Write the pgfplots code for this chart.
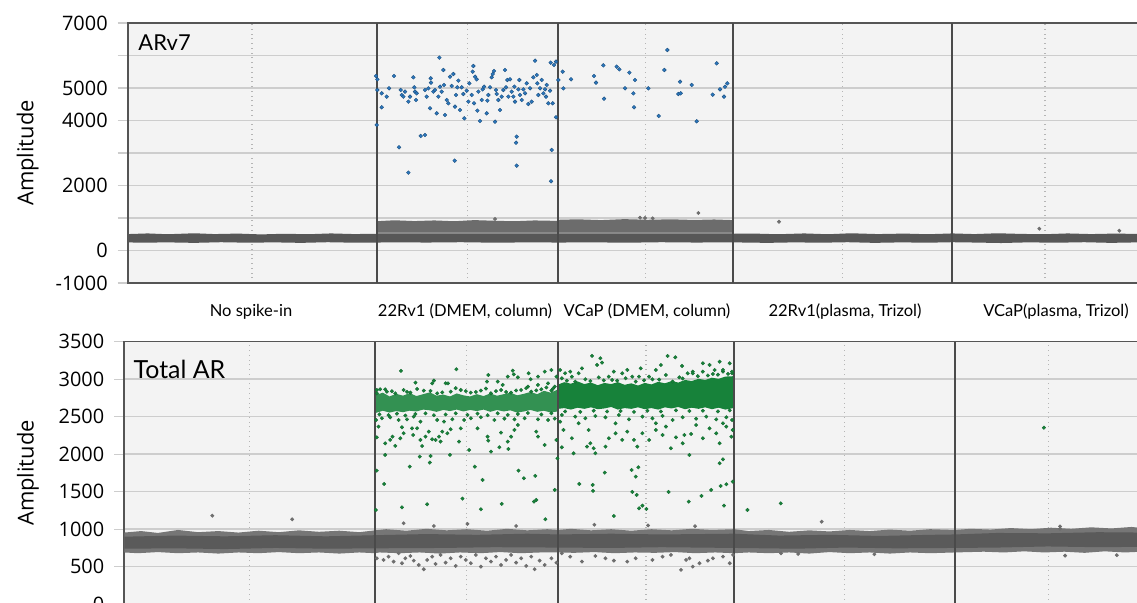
\documentclass[border=0pt]{standalone}
\usepackage{fontspec}
\setmainfont{Open Sans}
\newfontfamily\gill{Lato}
\usepackage{pgfplots}
\pgfplotsset{compat=1.18}

\definecolor{bgc}{HTML}{F3F3F3}
\definecolor{gridc}{HTML}{CDCDCD}
\definecolor{dotc}{HTML}{B5B5B5}
\definecolor{sepc}{HTML}{4A4A4A}
\definecolor{framec}{HTML}{555555}
\definecolor{bandd}{HTML}{575757}
\definecolor{bandu}{HTML}{6C6C6C}
\definecolor{bandg}{HTML}{8E8E8E}
\definecolor{bando}{HTML}{767676}
\definecolor{bandc}{HTML}{5A5A5A}
\definecolor{outc}{HTML}{6E6E6E}
\definecolor{bluec}{HTML}{2C78BE}
\definecolor{bluedk}{HTML}{1B4F80}
\definecolor{greenc}{HTML}{17823A}

\pgfplotsset{
  ddpcr/.style={
    scale only axis,
    xmin=0, xmax=3031,
    axis background/.style={fill=bgc},
    axis line style={draw=framec, line width=0.8bp},
    tick align=outside,
    major tick length=5bp, minor tick length=5bp,
    xtick style={draw=none},
    ytick style={draw=gridc, line width=0.6bp},
    minor xtick={373,1019,1554,2145,2752},
    xminorgrids, ymajorgrids, yminorgrids,
    minor x grid style={draw=dotc, dotted, line width=0.7bp},
    major y grid style={draw=gridc, line width=0.7bp},
    minor y grid style={draw=gridc, line width=0.7bp},
    tick label style={font=\fontsize{10}{12}\selectfont},
    yticklabel style={xshift=-1.5bp},
    /pgf/number format/assume math mode=true,
    /pgf/number format/1000 sep={},
    label style={font=\fontsize{11}{13}\selectfont},
    ylabel={Amplitude},
  },
  sep/.style={draw=sepc, line width=0.9bp, forget plot},
  blue pts/.style={only marks, mark=*, mark size=0.95bp,
    mark options={fill=bluec, draw=bluedk, line width=0.2bp}},
  green pts/.style={only marks, mark=*, mark size=0.9bp,
    mark options={fill=greenc, draw=greenc!80!black, line width=0.15bp}},
  gray pts/.style={only marks, mark=*, mark size=0.75bp,
    mark options={fill=outc, draw=outc}},
}

\begin{document}
\begin{tikzpicture}

% ---------------- ARv7 ----------------
\begin{axis}[ddpcr,
  at={(63.85bp,160bp)}, anchor=south west,
  width=505.15bp, height=130bp,
  ymin=-1000, ymax=7000,
  ytick={-1000,0,2000,4000,5000,7000},
  minor ytick={1000,3000,6000},
  xtick={370,1012,1558,2152,2785},
  xticklabels={{No spike-in},{22Rv1 (DMEM, column)},{VCaP (DMEM, column)},{22Rv1(plasma, Trizol)},{VCaP(plasma, Trizol)}},
  xticklabel style={font=\gill\fontsize{8.3}{9}\selectfont, anchor=base, yshift=-11.8bp},
  ylabel style={at={(rel axis cs:-0.099,0.5)}, anchor=center},
]
% light strip between the two negative layers (wells 2-3)
\addplot[fill=bandg, draw=none] coordinates {(747,575)(1816,575)(1816,500)(747,500)};
% upper negative layer (wells 2-3)
\addplot[fill=bandu, draw=none] coordinates {
(747,900)(800,930)(860,905)(920,925)(980,900)(1040,935)(1100,915)(1160,900)(1220,925)(1292,910)
(1292,945)(1350,960)(1420,935)(1490,965)(1560,945)(1630,960)(1700,940)(1760,955)(1816,935)
(1816,565)(747,565)};
% negative droplet band
\addplot[fill=bandd, draw=none] coordinates {
(0,505)(60,525)(120,500)(200,530)(260,505)(330,520)(400,495)(470,515)(540,500)(610,525)(680,505)(747,515)
(1816,515)(1880,520)(1950,500)(2030,525)(2100,500)(2170,530)(2250,505)(2330,520)(2400,500)(2474,525)
(2540,505)(2610,530)(2680,510)(2750,500)(2820,525)(2890,505)(2960,520)(3031,510)
(3031,250)(2950,235)(2870,255)(2790,240)(2700,250)(2620,230)(2540,245)(2474,255)(2400,240)(2320,250)
(2240,235)(2160,255)(2080,240)(2000,250)(1920,235)(1816,250)(1700,245)(1600,255)(1500,240)(1400,250)
(1292,245)(1200,250)(1100,240)(1000,255)(900,245)(800,250)(747,245)(680,240)(600,255)(520,235)
(440,250)(360,240)(280,255)(200,235)(120,250)(40,240)(0,250)};
\addplot[gray pts] coordinates {(1102,969)(1537,1009)(1552,1000)(1575,990)(1712,1154)(1954,886)(2735,671)(2975,609)};
% ARv7 positive droplets
\addplot[blue pts] coordinates {
(745,5370)(749,5267)(749,4939)(762,4836)(762,4406)(747,3862)(777,4734)(784,4990)(799,5370)(814,3175)
(819,4939)(822,4785)(827,4734)(832,4888)(842,4580)(842,2395)(847,4734)(857,5329)(860,5021)(862,4888)
(865,4631)(867,4836)(879,3524)(892,3554)(892,4939)(897,4734)(902,4990)(907,4375)(909,5298)(910,5165)
(917,4888)(922,4939)(927,4221)(932,4734)(935,5934)(937,5041)(942,4888)(947,5554)(949,5093)(952,4170)
(957,4631)(962,4529)(967,5349)(972,5062)(977,5431)(981,2765)(982,4426)(985,4785)(989,5021)(992,5226)
(997,4323)(1002,5021)(1007,4816)(1010,4067)(1017,4918)(1022,4580)(1025,5144)(1032,4785)(1035,5503)(1037,5677)
(1039,4529)(1042,5349)(1047,5267)(1049,4303)(1052,4888)(1057,3985)(1062,4631)(1065,4959)(1069,5041)(1077,4221)
(1079,4611)(1082,4785)(1087,5021)(1092,5329)(1095,5431)(1099,5523)(1102,3964)(1105,4939)(1107,4816)(1112,4631)
(1117,4323)(1122,4734)(1127,4939)(1132,5554)(1135,5021)(1139,5247)(1142,4734)(1147,5267)(1152,4888)(1157,4734)
(1160,5041)(1162,4580)(1165,3318)(1167,3503)(1167,2611)(1172,4959)(1175,5247)(1177,4785)(1182,4631)(1187,4959)
(1192,4836)(1197,5144)(1202,4508)(1207,4990)(1212,4580)(1217,5329)(1222,5841)(1227,5400)(1229,5144)(1232,4785)
(1237,4990)(1242,5247)(1247,4836)(1252,4959)(1255,4734)(1257,5093)(1262,4529)(1267,4918)(1269,5780)(1272,3093)
(1270,2129)(1275,4529)(1279,5708)(1285,4098)(1285,5811)
(1292,5247)(1305,5503)(1307,4990)(1330,5267)(1399,5370)(1405,5165)(1427,5698)(1429,4672)(1467,5657)(1475,5575)
(1492,4990)(1505,5472)(1517,4836)(1519,4406)(1522,5247)(1562,4990)(1593,4139)(1610,5554)(1619,6170)(1652,4816)
(1657,5195)(1659,4836)(1692,5093)(1707,3975)(1755,4795)(1767,5759)(1777,4959)(1789,4734)(1792,5041)(1799,5144)};
% well separators
\pgfplotsinvokeforeach{747,1292,1816,2474}{\addplot[sep] coordinates {(#1,-1000)(#1,7000)};}
\node[font=\gill\fontsize{11}{13}\selectfont, anchor=west, inner sep=0pt]
  at (rel axis cs:0,1) [xshift=5.2bp, yshift=-9.6bp] {ARv7};
\end{axis}

% ---------------- Total AR ----------------
\begin{axis}[ddpcr,
  at={(62.15bp,-0.6bp)}, anchor=south west,
  width=508.85bp, height=131.25bp,
  ymin=0, ymax=3500,
  ytick={0,500,...,3500},
  xtick={370,1012,1558,2152,2785},
  xticklabels={},
  ylabel style={at={(rel axis cs:-0.0946,0.5)}, anchor=center},
]
% negative droplet band, outer and core
\addplot[fill=bando, draw=none] coordinates {
(0,955)(50,975)(100,950)(160,990)(220,960)(280,975)(340,955)(400,980)(460,960)(520,985)(580,965)(640,980)(700,960)(747,985)
(780,1000)(840,980)(900,1005)(960,985)(1020,1000)(1080,980)(1140,1005)(1200,985)(1260,1000)(1292,990)
(1330,1005)(1390,985)(1450,1000)(1510,980)(1570,1000)(1630,985)(1690,1005)(1750,990)(1816,1000)
(1860,975)(1920,990)(1980,965)(2040,985)(2100,970)(2160,990)(2220,975)(2280,995)(2340,980)(2400,1000)(2474,990)
(2520,1005)(2580,995)(2640,1015)(2700,1000)(2760,1020)(2820,1005)(2880,1025)(2940,1010)(3000,1030)(3031,1015)
(3031,700)(2980,690)(2920,705)(2860,685)(2800,700)(2740,690)(2680,705)(2620,690)(2560,700)(2474,690)
(2400,680)(2340,690)(2280,675)(2220,690)(2160,680)(2100,695)(2040,675)(1980,690)(1920,680)(1860,690)(1816,680)
(1760,690)(1700,680)(1640,695)(1580,685)(1520,690)(1460,680)(1400,695)(1340,685)(1292,690)
(1240,690)(1180,680)(1120,695)(1060,680)(1000,690)(940,675)(880,690)(820,680)(760,690)(747,680)
(700,690)(640,675)(580,690)(520,680)(460,695)(400,680)(340,690)(280,675)(220,690)(160,680)(100,695)(40,680)(0,690)};
\addplot[fill=bandc, draw=none] coordinates {
(0,900)(150,915)(300,905)(450,920)(600,905)(747,920)(900,935)(1050,925)(1200,940)(1292,930)(1450,940)(1600,930)
(1816,940)(1950,915)(2100,925)(2250,910)(2400,925)(2474,930)(2600,950)(2750,945)(2900,960)(3031,955)
(3031,765)(2900,760)(2750,770)(2600,755)(2474,750)(2300,745)(2150,755)(2000,740)(1816,750)(1600,760)(1450,750)
(1292,755)(1100,760)(950,750)(747,745)(600,740)(450,750)(300,735)(150,745)(0,740)};
% scattered negative droplets
\addplot[gray pts] coordinates {
(752,612)(772,590)(787,634)(802,568)(817,679)(827,546)(837,612)(852,643)(862,581)(877,523)
(892,466)(902,590)(917,634)(927,537)(942,657)(957,554)(972,612)(987,510)(1002,634)(1017,590)
(1032,546)(1047,657)(1062,501)(1077,612)(1092,568)(1107,634)(1122,523)(1137,590)(1152,657)(1167,554)
(1182,612)(1197,510)(1212,634)(1222,466)(1237,581)(1252,523)(1272,612)(1287,554)
(1303,679)(1328,634)(1363,568)(1403,643)(1433,612)(1458,581)(1498,568)(1523,612)(1573,590)(1603,634)
(1628,657)(1658,457)(1673,590)(1683,612)(1693,501)(1713,546)(1738,581)(1753,612)(1783,634)(1803,546)(1813,657)
(832,1079)(922,1043)(1022,1070)(1167,1043)(1400,1060)(1560,1050)(1700,1040)
(262,1180)(500,1132)(2077,1100)(2787,1037)(2787,1005)(2802,647)(2956,654)(1956,679)(2007,670)(2234,666)};
% dense positive clusters
\addplot[fill=greenc!88!white, draw=none] coordinates {
(749,2790)(770,2820)(790,2770)(810,2805)(830,2780)(850,2815)(870,2775)(890,2800)(910,2825)(930,2780)
(950,2795)(970,2770)(990,2810)(1010,2785)(1030,2770)(1050,2800)(1070,2775)(1090,2810)(1110,2780)(1130,2800)
(1150,2820)(1170,2785)(1190,2805)(1210,2830)(1230,2800)(1250,2845)(1270,2820)(1290,2860)
(1290,2570)(1270,2555)(1250,2580)(1230,2565)(1210,2590)(1190,2570)(1170,2555)(1150,2585)(1130,2570)(1110,2590)
(1090,2565)(1070,2595)(1050,2575)(1030,2590)(1010,2570)(990,2595)(970,2575)(950,2590)(930,2565)(910,2585)
(890,2595)(870,2570)(850,2580)(830,2560)(810,2575)(790,2555)(770,2580)(749,2550)};
\addplot[fill=greenc, draw=none] coordinates {
(1293,2930)(1310,2960)(1330,2940)(1350,2970)(1370,2935)(1390,2955)(1410,2920)(1430,2950)(1450,2935)(1470,2960)
(1490,2925)(1510,2945)(1530,2915)(1550,2950)(1570,2930)(1590,2965)(1610,2945)(1630,2975)(1650,2955)(1670,2990)
(1690,2975)(1710,3005)(1730,2990)(1750,3020)(1770,3005)(1790,3035)(1814,3040)
(1814,2615)(1790,2595)(1770,2620)(1750,2600)(1730,2625)(1710,2605)(1690,2620)(1670,2600)(1650,2630)(1630,2610)
(1610,2625)(1590,2595)(1570,2615)(1550,2600)(1530,2625)(1510,2605)(1490,2615)(1470,2595)(1450,2630)(1430,2610)
(1410,2600)(1390,2625)(1370,2605)(1350,2620)(1330,2595)(1310,2615)(1293,2605)};
% Total AR positive droplets, 22Rv1 (DMEM, column)
\addplot[green pts] coordinates {
(824,3110)(989,3132)(867,2954)(922,2981)(917,2945)(957,2945)(964,2945)(1084,3056)(1080,2968)(1112,2968)
(1127,2923)(1142,3034)(1157,3114)(1160,3065)(1172,3025)(1204,3079)(1210,2999)(1232,3034)(1252,3101)(1272,3123)
(1287,3034)(1202,2901)(1232,2923)(762,2865)(777,2865)(752,2856)
(752,2812)(782,2834)(807,2812)(832,2856)(852,2821)(892,2848)(932,2812)(972,2834)(1002,2856)(1032,2821)
(1062,2848)(1092,2812)(1122,2856)(1152,2821)(1182,2856)(1212,2834)(1242,2865)(1272,2848)(1282,2901)(1262,2945)
(797,2840)(842,2830)(872,2870)(912,2845)(947,2825)(987,2880)(1017,2840)(1047,2830)(1077,2875)(1107,2840)
(1137,2830)(1167,2850)(1197,2880)(1227,2850)(1257,2890)(1277,2875)
(760,2530)(787,2520)(812,2540)(837,2515)(867,2535)(897,2545)(922,2520)(957,2530)(987,2545)(1022,2525)
(1052,2540)(1082,2520)(1112,2545)(1142,2525)(1172,2535)(1202,2550)(1242,2530)(1272,2545)
(750,2456)(767,2479)(792,2492)(817,2456)(842,2465)(862,2501)(882,2434)(932,2456)(952,2434)(977,2465)
(1012,2456)(1032,2479)(1062,2492)(1102,2456)(1132,2474)(1162,2465)(1192,2479)(1232,2465)(1262,2456)(1282,2474)
(757,2368)(752,2225)(777,2145)(792,2190)(807,2110)(799,2234)(822,2212)(827,2359)(832,2279)(857,2345)
(860,2256)(872,2345)(882,2190)(887,2110)(897,2234)(907,2301)(917,2199)(927,2190)(937,2234)(942,2168)
(947,2301)(962,2279)(972,2332)(997,2168)(1002,2345)(1027,2056)(1052,2345)(1082,2234)(1084,2181)(1092,2034)
(1117,2092)(1122,2288)(1142,2168)(1144,2070)(1152,2234)(1162,2323)(1172,2390)(1227,2301)(1232,2234)(1252,2123)
(1287,2190)(1290,1945)(777,1990)(880,1968)(912,1976)(970,1990)(752,1781)(850,1834)(910,1888)(1044,1834)
(1067,1657)(1174,1781)(1190,1679)(1224,1710)(774,1603)(1282,1523)(749,1256)(827,1292)(902,1332)(1007,1408)
(1062,1265)(1124,1337)(1220,1368)(1227,1390)(1254,1132)};
% VCaP (DMEM, column)
\addplot[green pts] coordinates {
(1393,3310)(1418,3279)(1423,3221)(1363,3145)(1408,3190)(1328,3101)(1313,3079)(1353,3079)(1618,3310)(1641,3292)
(1661,3176)(1598,3190)(1583,3123)(1538,3145)(1498,3123)(1458,3101)(1483,3079)(1723,3212)(1743,3190)(1773,3234)
(1803,3212)(1758,3123)(1783,3101)(1693,3101)(1443,3034)(1563,3034)(1298,3123)(1513,3034)(1678,3079)(1810,3079)
(1303,3012)(1333,3034)(1373,2999)(1413,3025)(1453,2990)(1493,3012)(1533,3034)(1573,2999)(1613,3056)(1653,3025)
(1693,3079)(1723,3101)(1753,3070)(1783,3123)(1810,3101)(1343,2968)(1523,2968)(1633,2968)
(1318,2980)(1388,2975)(1428,2985)(1468,2980)(1548,2985)(1593,2995)(1663,3010)(1708,3040)(1738,3050)(1768,3060)(1798,3070)
(1313,2570)(1358,2565)(1398,2580)(1438,2570)(1478,2575)(1518,2565)(1558,2580)(1598,2570)(1643,2585)(1683,2575)
(1723,2580)(1768,2570)(1803,2585)
(1303,2523)(1343,2501)(1373,2479)(1403,2510)(1433,2492)(1473,2523)(1503,2465)(1543,2501)(1573,2479)(1603,2510)
(1633,2456)(1663,2492)(1703,2474)(1733,2501)(1763,2465)(1793,2492)(1810,2456)(1353,2412)(1463,2412)(1583,2412)
(1703,2390)(1783,2412)
(1298,2434)(1308,2323)(1333,2212)(1338,2012)(1303,2092)(1383,2323)(1378,2101)(1388,2145)(1398,2079)(1403,2012)
(1433,2101)(1443,2212)(1463,2279)(1483,2190)(1498,2301)(1518,2190)(1528,2101)(1543,2279)(1563,2190)(1583,2323)
(1603,2256)(1613,2368)(1628,2079)(1643,2225)(1663,2145)(1668,2256)(1688,2270)(1723,2212)(1743,2345)(1763,2279)
(1773,2145)(1793,2368)(1808,2234)(1812,2323)(1683,1990)(1773,1879)(1783,1932)(1431,1754)(1511,1790)(1523,1701)
(1531,1825)(1355,1603)(1395,1590)(1396,1510)(1513,1497)(1526,1457)(1621,1497)(1681,1368)(1719,1443)(1748,1523)
(1776,1577)(1793,1599)(1812,1634)(1786,1314)(1533,1279)(1543,1314)(1555,1270)(1458,1177)};
% plasma samples
\addplot[green pts] coordinates {(1856,1256)(1955,1345)(2739,2353)};
% well separators
\pgfplotsinvokeforeach{747,1292,1816,2474}{\addplot[sep] coordinates {(#1,0)(#1,3500)};}
\node[font=\gill\fontsize{12.5}{14}\selectfont, anchor=west, inner sep=0pt]
  at (rel axis cs:0,1) [xshift=4.5bp, yshift=-14bp] {Total AR};
\end{axis}

\pgfresetboundingbox
\useasboundingbox (0,0) rectangle (568.5bp,301.5bp);
\end{tikzpicture}
\end{document}
